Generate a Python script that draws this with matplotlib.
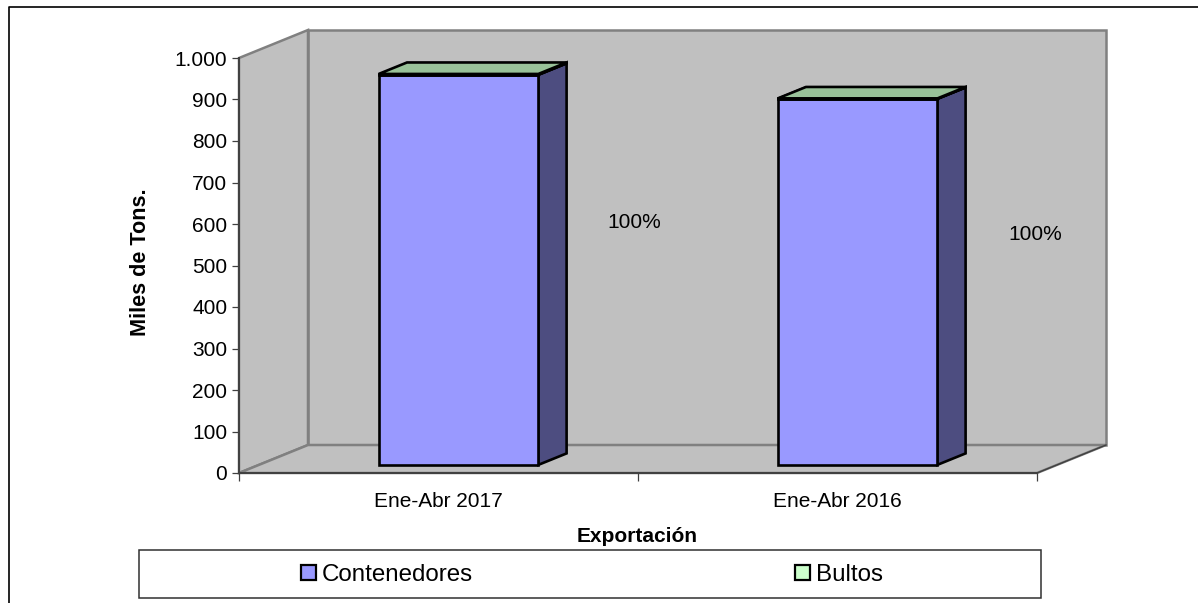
import matplotlib
matplotlib.use("Agg")
import matplotlib.pyplot as plt
from matplotlib.patches import Polygon, Rectangle
from matplotlib.lines import Line2D

plt.rcParams['font.family'] = ['Liberation Sans', 'DejaVu Sans']

categories = ["Ene-Abr 2017", "Ene-Abr 2016"]
contenedores = [940, 882]
bultos = [2, 1]
pct_labels = ["100%", "100%"]
y_ticks = [0, 100, 200, 300, 400, 500, 600, 700, 800, 900, 1000]
y_tick_labels = ["0", "100", "200", "300", "400", "500", "600", "700", "800", "900", "1.000"]

W, H = 1198, 603
DEPTH_X = 69 / 399     # shift of the back wall, in x units
DEPTH_Y = 28 / 0.415   # same, in y units
BAR_X = 0.30
BAR_W = 0.40
D0, D1 = 0.29, 0.70

BLUE = "#9999FF"
BLUE_SIDE = "#4D4D80"
GREEN = "#CCFFCC"
GREEN_TOP = "#99C299"
WALL = "#C0C0C0"
WALL_EDGE = "#808080"
AXIS = "#404040"
FS = 15.0


def proj(x, y, d):
    return (x + d * DEPTH_X, y + d * DEPTH_Y)


def face(ax, pts, color, edge, lw, z):
    ax.add_patch(Polygon(pts, closed=True, facecolor=color, edgecolor=edge, linewidth=lw,
                         joinstyle="miter", clip_on=False, zorder=z))


def box(ax, x, y0, y1, front, side, top):
    x2 = x + BAR_W
    face(ax, [proj(x2, y0, D0), proj(x2, y0, D1), proj(x2, y1, D1), proj(x2, y1, D0)],
         side, "black", 1.9, 3)
    face(ax, [proj(x, y1, D0), proj(x2, y1, D0), proj(x2, y1, D1), proj(x, y1, D1)],
         top, "black", 1.9, 3)
    face(ax, [proj(x, y0, D0), proj(x2, y0, D0), proj(x2, y1, D0), proj(x, y1, D0)],
         front, "black", 1.9, 4)


fig = plt.figure(figsize=(W / 100, H / 100), dpi=100, facecolor="white")
ax = fig.add_axes([239 / W, 1 - 473 / H, 798 / W, 415 / H])
ax.set_xlim(0, 2)
ax.set_ylim(0, 1000)
ax.patch.set_visible(False)

# back wall, side wall, floor
face(ax, [proj(0, 0, 1), proj(2, 0, 1), proj(2, 1000, 1), proj(0, 1000, 1)], WALL, WALL_EDGE, 1.8, 1)
face(ax, [proj(0, 0, 0), proj(0, 0, 1), proj(0, 1000, 1), proj(0, 1000, 0)], WALL, WALL_EDGE, 1.8, 1)
face(ax, [proj(0, 0, 0), proj(2, 0, 0), proj(2, 0, 1), proj(0, 0, 1)], WALL, WALL_EDGE, 1.8, 1)
ax.plot([2, 2 + DEPTH_X], [0, DEPTH_Y], color=AXIS, lw=1, clip_on=False, zorder=2)

for i in range(len(categories)):
    x = i + BAR_X
    box(ax, x, 0, contenedores[i], BLUE, BLUE_SIDE, BLUE)
    box(ax, x, contenedores[i], contenedores[i] + bultos[i], GREEN, BLUE_SIDE, GREEN_TOP)
    ax.text(i + 0.99 + i * 0.005, contenedores[i] / 2 + 134, pct_labels[i], fontsize=FS,
            ha="center", va="center", color="black", zorder=6)

for s in ["top", "right"]:
    ax.spines[s].set_visible(False)
for s in ["left", "bottom"]:
    ax.spines[s].set_color(AXIS)
    ax.spines[s].set_linewidth(1.4)
    ax.spines[s].set_zorder(5)

ax.set_yticks(y_ticks)
ax.set_yticklabels(y_tick_labels)
ax.tick_params(axis="y", length=5, width=0.9, color=AXIS, pad=3.5, labelsize=FS)
ax.set_xticks([0, 1, 2])
ax.set_xticklabels([])
ax.tick_params(axis="x", which="major", length=5.5, width=0.9, color=AXIS)
ax.set_xticks([0.5, 1.5], minor=True)
ax.set_xticklabels(categories, minor=True)
ax.tick_params(axis="x", which="minor", length=0, pad=14, labelsize=FS)

fig.text(141 / W, 1 - 262 / H, "Miles de Tons.", rotation=90, fontsize=15.6, fontweight="bold",
         ha="center", va="center")
fig.text(637 / W, 1 - 537 / H, "Exportación", fontsize=FS, fontweight="bold",
         ha="center", va="center")

# outer frame, open to the right and bottom
fig.add_artist(Line2D([9 / W, 9 / W, 1], [0, 1 - 7 / H, 1 - 7 / H], color="black", lw=1.2))

# legend box
fig.add_artist(Rectangle((139 / W, 1 - 598 / H), 902 / W, 48 / H, transform=fig.transFigure,
                         facecolor="white", edgecolor="#303030", lw=1.1))
handles = [Rectangle((0, 0), 1, 1, facecolor=BLUE, edgecolor="black", lw=1.6),
           Rectangle((0, 0), 1, 1, facecolor=GREEN, edgecolor="black", lw=1.6)]
fig.legend(handles, ["Contenedores", "Bultos"], ncol=2, frameon=False, fontsize=17.4,
           loc="center left", bbox_to_anchor=(301 / W, 1 - 575 / H), borderaxespad=0, borderpad=0,
           handlelength=0.6, handleheight=0.6, handletextpad=0.25, columnspacing=13.35)

fig.savefig("out.png", dpi=100)
